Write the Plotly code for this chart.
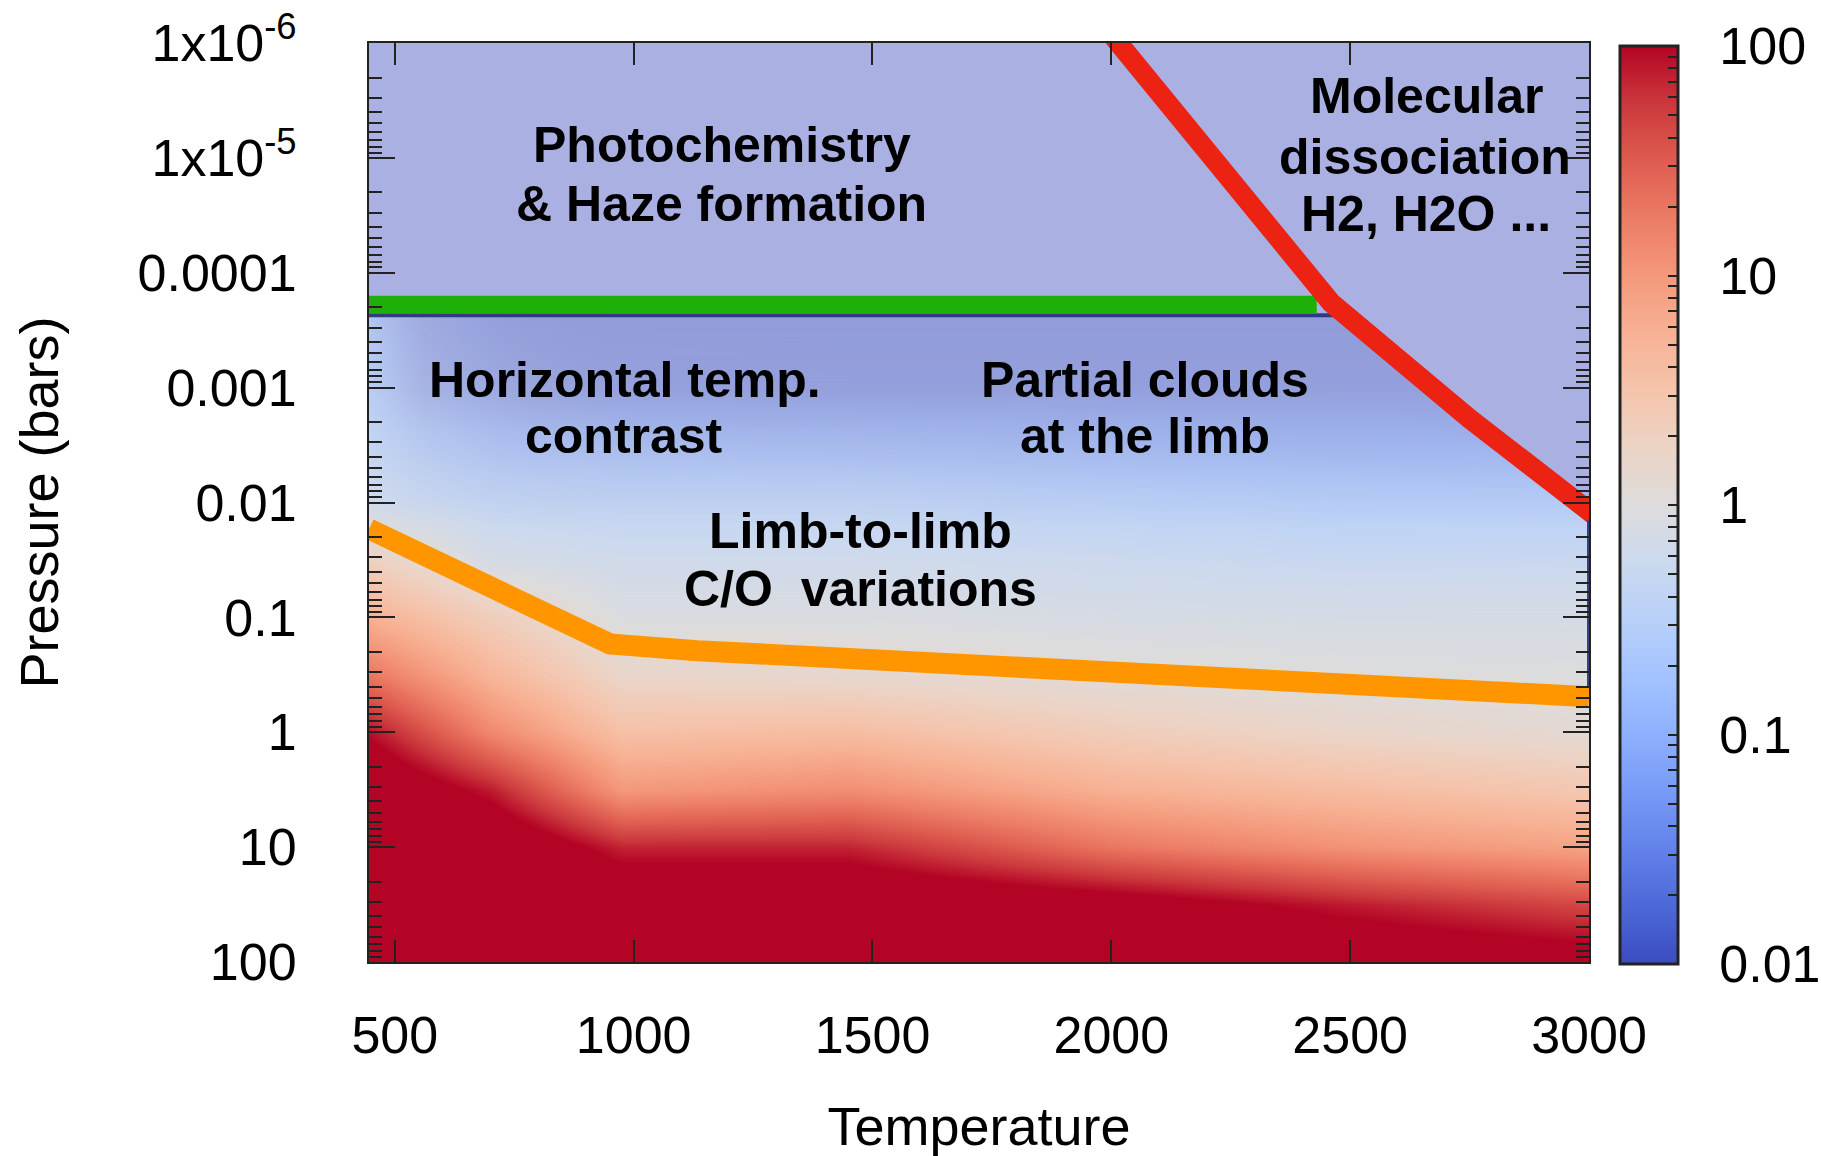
import numpy as np
import plotly.graph_objects as go

# ---------------- data ----------------
# heatmap grid: temperature columns (K) and log10 pressure rows (bars)
temps_grid = [446, 700, 975, 1450, 2000, 2500, 3000]
logp_grid = [-6.2, -4.0, -3.6, -3.0, -2.5, -2.0, -1.5, -1.0, -0.5, 0.0, 0.5, 1.0, 1.5, 2.2]
# log10 of the colour-coded ratio, one row per logp_grid entry, one column per temps_grid entry
ratio_log10 = [
    [-0.60, -0.90, -1.00, -1.00, -1.00, -1.00, -1.00],
    [-0.60, -0.90, -1.00, -1.00, -1.00, -1.00, -1.00],
    [-0.50, -0.85, -0.95, -0.95, -0.95, -0.95, -0.95],
    [-0.45, -0.70, -0.85, -0.88, -0.88, -0.88, -0.88],
    [-0.35, -0.55, -0.60, -0.62, -0.68, -0.72, -0.75],
    [-0.20, -0.35, -0.38, -0.38, -0.45, -0.50, -0.50],
    [0.30, -0.12, -0.20, -0.20, -0.25, -0.30, -0.28],
    [0.75, 0.35, -0.05, -0.05, -0.10, -0.12, -0.12],
    [1.30, 0.70, 0.20, 0.15, 0.05, 0.00, -0.02],
    [1.95, 1.15, 0.55, 0.60, 0.35, 0.20, 0.10],
    [2.40, 1.90, 1.00, 1.10, 0.75, 0.60, 0.45],
    [2.50, 2.40, 1.85, 1.85, 1.30, 1.05, 0.90],
    [2.50, 2.50, 2.40, 2.40, 2.20, 1.90, 1.65],
    [2.50, 2.50, 2.50, 2.50, 2.50, 2.50, 2.40],
]

# translucent violet haze seen just under the photochemistry limit
haze_tint_T = [446, 560, 800, 3000]
haze_tint_logp = [-3.63, -3.0, -2.6, -2.2, -1.8]
haze_tint_alpha = [
    [0.15, 0.45, 0.55, 0.55],
    [0.05, 0.35, 0.50, 0.50],
    [0.00, 0.15, 0.25, 0.30],
    [0.00, 0.05, 0.10, 0.12],
    [0.00, 0.00, 0.00, 0.00],
]

# hand-drawn boundary lines (temperature in K, pressure in bars)
haze_T = [446, 2430]                       # green: photochemistry / haze limit
haze_P = [1.9e-4, 1.9e-4]
dissoc_T = [2005, 2200, 2380, 2460, 2750, 3008]   # red: molecular dissociation
dissoc_P = [8.9e-7, 8.9e-6, 7.1e-5, 1.82e-4, 1.86e-3, 1.26e-2]
cloud_T = [446, 700, 950, 1133, 1473, 2105, 2590, 3000]   # orange
cloud_P = [0.017, 0.054, 0.17, 0.195, 0.234, 0.31, 0.39, 0.49]
region_T = [446, 2470, 3000, 3000]          # dark outline of the upper region
region_P = [2.34e-4, 2.34e-4, 0.0145, 0.45]

# axes
x_range = [446, 3000]
logp_range = [2, -6]
x_ticks = [500, 1000, 1500, 2000, 2500, 3000]
y_tick_logp = [-6, -5, -4, -3, -2, -1, 0, 1, 2]
y_tick_text = ["1x10<sup>-6</sup>", "1x10<sup>-5</sup>", "0.0001", "0.001", "0.01",
               "0.1", "1", "10", "100"]
cb_tick_logv = [-2, -1, 0, 1, 2]
cb_tick_text = ["0.01", "0.1", "1", "10", "100"]

# region labels: (text, temperature, pressure)
labels = [
    ("Photochemistry", 1186, 7.8e-6),
    ("& Haze formation", 1183, 2.5e-5),
    ("Molecular", 2659, 2.9e-6),
    ("dissociation", 2657, 9.8e-6),
    ("H2, H2O ...", 2659, 3.1e-5),
    ("Horizontal temp.", 982, 8.55e-4),
    ("contrast", 979, 2.62e-3),
    ("Partial clouds", 2071, 8.55e-4),
    ("at the limb", 2071, 2.62e-3),
    ("Limb-to-limb", 1475, 1.77e-2),
    ("C/O\u00a0 variations", 1475, 5.65e-2),
]

FONT = "Liberation Sans, Arial, Helvetica, sans-serif"

coolwarm = [
    [0.0, "rgb(59,76,192)"], [0.0625, "rgb(77,104,215)"], [0.125, "rgb(98,130,234)"],
    [0.1875, "rgb(119,154,247)"], [0.25, "rgb(141,176,254)"], [0.3125, "rgb(163,194,255)"],
    [0.375, "rgb(184,208,249)"], [0.4375, "rgb(204,217,238)"], [0.5, "rgb(221,220,220)"],
    [0.5625, "rgb(236,211,197)"], [0.625, "rgb(245,196,172)"], [0.6875, "rgb(247,177,148)"],
    [0.75, "rgb(244,152,123)"], [0.8125, "rgb(236,124,101)"], [0.875, "rgb(222,92,80)"],
    [0.9375, "rgb(203,56,60)"], [1.0, "rgb(180,4,38)"],
]

# colour bar ticks: decades labelled, intermediate digits unlabelled
cb_vals, cb_text = [], []
for d, t in zip(cb_tick_logv, cb_tick_text):
    cb_vals.append(d)
    cb_text.append("\u00a0\u00a0" + t)
    if d < 2:
        for k in range(2, 10):
            cb_vals.append(d + np.log10(k))
            cb_text.append("")

minor_y = [d + np.log10(k) for d in range(-6, 2) for k in range(2, 10)]

fig = go.Figure()

fig.add_trace(go.Heatmap(
    x=temps_grid, y=logp_grid, z=ratio_log10,
    zmin=-2, zmax=2, colorscale=coolwarm, zsmooth="best",
    colorbar=dict(
        x=1.0254, xanchor="left", y=0.497, yanchor="middle", len=0.999, ypad=0, xpad=0,
        thickness=58, thicknessmode="pixels",
        outlinewidth=3, outlinecolor="#222",
        tickmode="array", tickvals=cb_vals, ticktext=cb_text,
        ticks="inside", ticklen=11, tickwidth=1.5, tickcolor="#222",
        tickfont=dict(family=FONT, size=52, color="black"),
    ),
    hoverinfo="skip",
))

fig.add_trace(go.Heatmap(
    x=haze_tint_T, y=haze_tint_logp, z=haze_tint_alpha,
    zmin=0, zmax=1, zsmooth="best", showscale=False,
    colorscale=[[0, "rgba(145,135,185,0)"], [1, "rgba(145,135,185,1)"]],
    hoverinfo="skip",
))

# upper (photochemistry / dissociation) region, bounded by the dark outline
x_lo, x_hi = x_range[0] - 20, x_range[1] + 20
top = logp_range[1] - 0.3
region_L = list(np.log10(region_P))
poly_T = [x_lo, x_hi, x_hi, region_T[2], region_T[1], x_lo]
poly_L = [top, top, region_L[2], region_L[2], region_L[1], region_L[0]]
fig.add_trace(go.Scatter(
    x=poly_T, y=poly_L, mode="lines", fill="toself",
    fillcolor="rgb(170,177,226)", line=dict(width=0), hoverinfo="skip",
))

fig.add_trace(go.Scatter(
    x=region_T, y=region_L, mode="lines",
    line=dict(color="rgba(25,40,110,0.85)", width=4), hoverinfo="skip",
))
fig.add_trace(go.Scatter(
    x=haze_T, y=np.log10(haze_P), mode="lines",
    line=dict(color="rgb(30,176,8)", width=18), hoverinfo="skip",
))
fig.add_trace(go.Scatter(
    x=cloud_T, y=np.log10(cloud_P), mode="lines",
    line=dict(color="rgb(255,150,0)", width=21), hoverinfo="skip",
))
fig.add_trace(go.Scatter(
    x=dissoc_T, y=np.log10(dissoc_P), mode="lines",
    line=dict(color="rgb(236,34,18)", width=20), hoverinfo="skip",
))

for text, t, p in labels:
    fig.add_annotation(
        x=t, y=np.log10(p), xref="x", yref="y", text=text, showarrow=False,
        xanchor="center", yanchor="middle",
        font=dict(family=FONT, size=50, color="black", weight="bold"),
    )

fig.update_layout(
    template="none",
    width=1821, height=1156,
    margin=dict(l=369, r=232, t=43, b=194, autoexpand=False),
    plot_bgcolor="white", paper_bgcolor="white",
    showlegend=False,
    font=dict(family=FONT, size=52, color="black"),
)

fig.update_xaxes(
    range=x_range, tickmode="array", tickvals=x_ticks,
    ticks="inside", ticklen=22, tickwidth=2, tickcolor="#222",
    showline=True, linecolor="#222", linewidth=2, mirror="ticks",
    showgrid=False, zeroline=False, automargin=False,
    tickfont=dict(family=FONT, size=52, color="black"),
    ticklabelstandoff=27,
    title=dict(text="Temperature", font=dict(family=FONT, size=54, color="black"), standoff=61),
)
fig.update_yaxes(
    range=logp_range, tickmode="array", tickvals=y_tick_logp, ticktext=y_tick_text,
    ticks="inside", ticklen=26, tickwidth=2, tickcolor="#222",
    minor=dict(tickmode="array", tickvals=minor_y, ticks="inside", ticklen=13,
               tickwidth=1.5, tickcolor="#222", showgrid=False),
    showline=True, linecolor="#222", linewidth=2, mirror="ticks",
    showgrid=False, zeroline=False, automargin=False,
    tickfont=dict(family=FONT, size=52, color="black"),
    ticklabelstandoff=60,
    title=dict(text="Pressure (bars)", font=dict(family=FONT, size=54, color="black"), standoff=62),
)

fig.write_html("out.html")
